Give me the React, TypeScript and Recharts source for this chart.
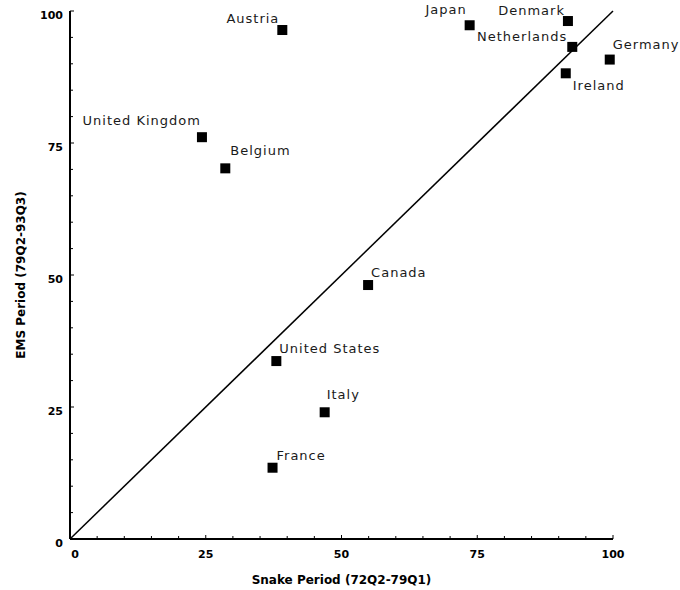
import React from 'react';
import { ScatterChart, Scatter, XAxis, YAxis, ReferenceLine, Label } from 'recharts';

const countries = ['Austria', 'United Kingdom', 'Belgium', 'Japan', 'Denmark', 'Netherlands', 'Germany', 'Ireland', 'Canada', 'United States', 'Italy', 'France'];
const snakePeriod = [39.1, 24.3, 28.6, 73.6, 91.7, 92.5, 99.4, 91.3, 54.9, 38.0, 46.9, 37.3];
const emsPeriod = [96.4, 76.1, 70.2, 97.3, 98.1, 93.2, 90.8, 88.2, 48.1, 33.7, 24.0, 13.5];
const axisTicks = [0, 5, 10, 15, 20, 25, 30, 35, 40, 45, 50, 55, 60, 65, 70, 75, 80, 85, 90, 95, 100];
const labeledTicks = [0, 25, 50, 75, 100];
const xTitle = 'Snake Period (72Q2-79Q1)';
const yTitle = 'EMS Period (79Q2-93Q3)';

const data = countries.map((name, i) => ({ name, x: snakePeriod[i], y: emsPeriod[i] }));

const labelPlacement: Record<string, { dx: number; dy: number; anchor: 'start' | 'end' }> = {
  Austria: { dx: -3, dy: -7, anchor: 'end' },
  'United Kingdom': { dx: -1, dy: -12, anchor: 'end' },
  Belgium: { dx: 5, dy: -13, anchor: 'start' },
  Japan: { dx: -3, dy: -11, anchor: 'end' },
  Denmark: { dx: -3, dy: -6, anchor: 'end' },
  Netherlands: { dx: -5, dy: -6, anchor: 'end' },
  Germany: { dx: 3, dy: -11, anchor: 'start' },
  Ireland: { dx: 7, dy: 17, anchor: 'start' },
  Canada: { dx: 3, dy: -8, anchor: 'start' },
  'United States': { dx: 3, dy: -8, anchor: 'start' },
  Italy: { dx: 2, dy: -13, anchor: 'start' },
  France: { dx: 4, dy: -8, anchor: 'start' },
};

const labelFont = { fontFamily: 'DejaVu Sans', fontSize: 13, letterSpacing: 1, fill: '#1a1a1a' };
const tickFont = { fontFamily: 'DejaVu Sans', fontSize: 11, fontWeight: 'bold' as const, fill: '#000' };
const titleFont = { fontFamily: 'DejaVu Sans', fontSize: 12, fontWeight: 'bold' as const, fill: '#000' };

const PointShape = (props: any) => {
  const { cx, cy, payload } = props;
  const p = labelPlacement[payload.name] || { dx: 4, dy: -8, anchor: 'start' };
  const s = 10;
  return (
    <g>
      <rect x={cx - s / 2} y={cy - s / 2} width={s} height={s} fill="#000" />
      <text x={cx + p.dx} y={cy + p.dy} textAnchor={p.anchor} {...labelFont}>
        {payload.name}
      </text>
    </g>
  );
};

const XTick = (props: any) => {
  const { x, y, payload } = props;
  const v = payload.value;
  const major = labeledTicks.includes(v);
  return (
    <g>
      <line x1={x} y1={y} x2={x} y2={y - (major ? 4 : 3)} stroke="#000" strokeWidth={1} />
      {major && (
        <text x={x + (v === 0 ? 5 : 0)} y={y + 19} textAnchor="middle" {...tickFont}>
          {v}
        </text>
      )}
    </g>
  );
};

const YTick = (props: any) => {
  const { x, y, payload } = props;
  const v = payload.value;
  const major = labeledTicks.includes(v);
  return (
    <g>
      <line x1={x} y1={y} x2={x + (major ? 4 : 3)} y2={y} stroke="#000" strokeWidth={1} />
      {major && (
        <text x={x - 7} y={y + 8} textAnchor="end" {...tickFont}>
          {v}
        </text>
      )}
    </g>
  );
};

export default function App() {
  return (
    <div style={{ position: 'absolute', left: 0, top: 0, background: '#fff' }}>
      <ScatterChart width={680} height={590} margin={{ top: 11, right: 67, bottom: 11, left: 10 }}>
        <XAxis
          type="number"
          dataKey="x"
          domain={[0, 100]}
          ticks={axisTicks}
          interval={0}
          tickSize={0}
          tickMargin={0}
          tick={<XTick />}
          tickLine={false}
          axisLine={{ stroke: '#000', strokeWidth: 2 }}
          height={40}
        >
          <Label
            content={(p: any) => {
              const vb = p.viewBox;
              return (
                <text x={vb.x + vb.width / 2} y={vb.y + 45} textAnchor="middle" {...titleFont}>
                  {xTitle}
                </text>
              );
            }}
          />
        </XAxis>
        <YAxis
          type="number"
          dataKey="y"
          domain={[0, 100]}
          ticks={axisTicks}
          interval={0}
          tickSize={0}
          tickMargin={0}
          tick={<YTick />}
          tickLine={false}
          axisLine={{ stroke: '#000', strokeWidth: 2 }}
          width={60}
        >
          <Label
            content={(p: any) => {
              const vb = p.viewBox;
              const cx = vb.x + 15;
              const cy = vb.y + vb.height / 2;
              return (
                <text x={cx} y={cy} textAnchor="middle" transform={`rotate(-90 ${cx} ${cy})`} {...titleFont}>
                  {yTitle}
                </text>
              );
            }}
          />
        </YAxis>
        <ReferenceLine
          segment={[{ x: 0, y: 0 }, { x: 100, y: 100 }]}
          stroke="#000"
          strokeWidth={1.5}
          ifOverflow="visible"
        />
        <Scatter data={data} shape={<PointShape />} isAnimationActive={false} />
      </ScatterChart>
    </div>
  );
}
